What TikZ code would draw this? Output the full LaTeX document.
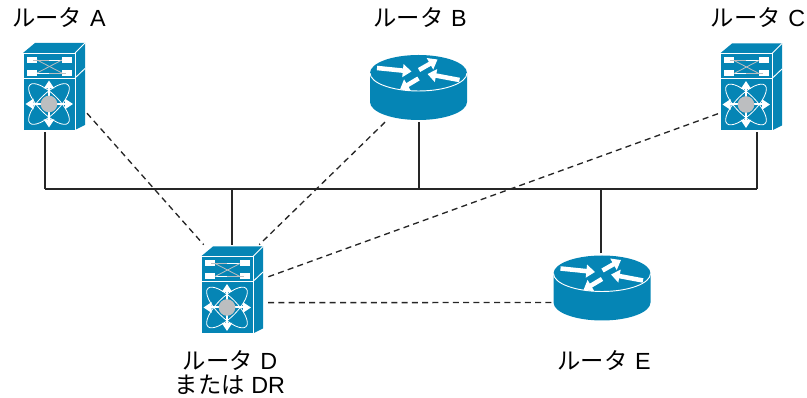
\documentclass[tikz,border=0pt]{standalone}
\usepackage{fontspec}
\setmainfont{Liberation Sans}
\newfontfamily\cjk{Noto Sans CJK JP}
\usetikzlibrary{arrows.meta}
\definecolor{icontop}{HTML}{0585B5}
\definecolor{iconhub}{HTML}{BCBEC0}
\newcommand*{\rname}[1]{{\cjk ルータ}\,\,#1}
\tikzset{
  switchbox/.style={inner sep=0pt, outer sep=1.5pt, minimum width=46.5pt, minimum height=65pt},
  routerbox/.style={inner sep=0pt, outer sep=1.5pt, minimum width=73pt, minimum height=49pt},
  rlabel/.style={inner sep=0pt, font=\fontsize{17.5}{18.5}\selectfont, align=center},
  bus/.style={line width=.9pt, black!85},
  peer/.style={line width=1pt, dash pattern=on 4.5pt off 3.2pt, black!85},
  whitearrow/.style={white, line width=3.4pt, -{Triangle[length=6.5pt,width=9.5pt]}},
  thinarrow/.style={white, line width=1.5pt, {Triangle[length=6pt,width=7.5pt]}-{Triangle[length=6pt,width=7.5pt]}},
  switchicon/.pic={
    \fill[icontop] (-31,-33.5) -- (-19,-43.5) -- (31,-43.5) -- (21,-33.5) -- cycle;
    \fill[icontop] (21,-33.5) -- (31,-43.5) -- (31,38.5) -- (21,43.5) -- cycle;
    \fill[icontop, draw=white, line width=.6pt] (-31,-33.5) rectangle (21,-8.5);
    \fill[icontop, draw=white, line width=.6pt] (-31,-8.5) rectangle (21,43.5);
    \draw[white, line width=.7pt] (21,-8.5) -- (31,-18);
    \draw[white, line width=.7pt] (21,-33.5) -- (31,-43.5);
    % switching panel
    \fill[white] (-27,-29.5) rectangle (-17,-23.5);
    \fill[white] (8,-29.5) rectangle (18,-23.5);
    \fill[white] (-27,-16.5) rectangle (-17,-10.5);
    \fill[white] (8,-16.5) rectangle (18,-10.5);
    \draw[white, line width=.5pt] (-17,-26.5) -- (8,-26.5);
    \draw[white, line width=.5pt] (-17,-13.5) -- (8,-13.5);
    \draw[iconhub, line width=.6pt] (-17,-26.5) -- (8,-13.5);
    \draw[iconhub, line width=.6pt] (-17,-13.5) -- (8,-26.5);
    \draw[iconhub, line width=.6pt] (-21,-26.5) -- (-5,-26.5);
    \draw[iconhub, line width=.6pt] (-5,-13.5) -- (12,-13.5);
    % fabric
    \draw[white, line width=.6pt] (-5,17.5) ellipse [x radius=27, y radius=10, rotate=45];
    \draw[white, line width=.6pt] (-5,17.5) ellipse [x radius=27, y radius=10, rotate=-45];
    \draw[thinarrow] (-5,-6) -- (-5,41);
    \draw[thinarrow] (-28.5,17.5) -- (19,17.5);
    \fill[iconhub] (-5,17.5) circle (8.3);
  },
  routericon/.pic={
    \fill[icontop] (-48.5,-14.5) -- (-48.5,14.5) arc[start angle=180, end angle=0, x radius=48.5, y radius=18]
      -- (48.5,-14.5) arc[start angle=0, end angle=-180, x radius=48.5, y radius=18] -- cycle;
    \draw[white, line width=.7pt] (-48.5,-14.5) arc[start angle=180, end angle=0, x radius=48.5, y radius=18];
    \draw[whitearrow] (-41.5,-19.5) -- (-7,-16);
    \draw[whitearrow] (0.5,-17.5) -- (19,-28);
    \draw[whitearrow] (41,-7.5) -- (9,-13.5);
    \draw[whitearrow] (0,-9) -- (-18.5,2);
  }
}
\begin{document}
\begin{tikzpicture}[x=.75pt, y=-.75pt]
\useasboundingbox (0,0) rectangle (807,398);

\node[switchbox] (rtrA) at (54,86.5) {};
\node[routerbox] (rtrB) at (418.5,87.5) {};
\node[switchbox] (rtrC) at (751,87) {};
\node[switchbox] (rtrD) at (232,290) {};
\node[routerbox] (rtrE) at (602,288) {};

\pic at (rtrA) {switchicon};
\pic at (rtrB) {routericon};
\pic at (rtrC) {switchicon};
\pic at (rtrD) {switchicon};
\pic at (rtrE) {routericon};

\node[rlabel] (lblA) at (59,18) {\rname{A}};
\node[rlabel] (lblB) at (420,18) {\rname{B}};
\node[rlabel] (lblC) at (758,18) {\rname{C}};
\node[rlabel] (lblD) at (230,372.5) {\rname{D}\\{\cjk または} DR};
\node[rlabel] (lblE) at (604,361) {\rname{E}};

\coordinate (busA) at (45,189);
\coordinate (busB) at (419,189);
\coordinate (busC) at (757,189);
\coordinate (busD) at (232,189);
\coordinate (busE) at (601,189);

%shared segment
\draw[bus] (busA) -- (busC);
\draw[bus] (rtrA.south -| busA) -- (busA);
\draw[bus] (rtrB.south -| busB) -- (busB);
\draw[bus] (rtrC.south -| busC) -- (busC);
\draw[bus] (rtrD.north -| busD) -- (busD);
\draw[bus] (rtrE.north -| busE) -- (busE);

%adjacencies
\draw[peer] (rtrA.-39) -- (rtrD.122);
\draw[peer] (rtrB.-134) -- (rtrD.59);
\draw[peer] (rtrC.219) -- (rtrD.20);
\draw[peer] (rtrE.196.4) -- (rtrD.-21.5);

\end{tikzpicture}
\end{document}
